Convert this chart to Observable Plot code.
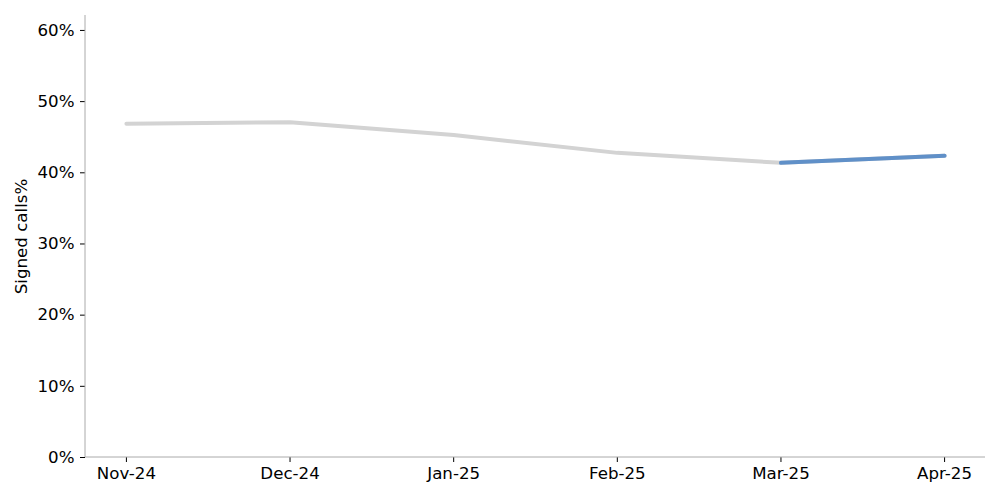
<!DOCTYPE html>
<html>
<head>
<meta charset="utf-8">
<script src="https://cdn.jsdelivr.net/npm/d3@7"></script>
<script src="https://cdn.jsdelivr.net/npm/@observablehq/plot@0.6"></script>
<style>
  html, body { margin: 0; padding: 0; background: #fff; }
  svg { font-family: "DejaVu Sans", sans-serif; }
</style>
</head>
<body>
<div id="chart"></div>
<script>
const months = ["Nov-24", "Dec-24", "Jan-25", "Feb-25", "Mar-25", "Apr-25"];
const signedPct = [0.469, 0.471, 0.453, 0.428, 0.414, 0.424];
const highlightMonths = ["Mar-25", "Apr-25"];
const yTicks = [0, 0.1, 0.2, 0.3, 0.4, 0.5, 0.6];

const data = months.map((m, i) => ({month: m, value: signedPct[i]}));
const highlight = data.filter(d => highlightMonths.includes(d.month));

const plot = Plot.plot({
  width: 1000,
  height: 500,
  marginLeft: 85,
  marginRight: 15,
  marginTop: 15,
  marginBottom: 43,
  style: {fontFamily: "DejaVu Sans, sans-serif", fontSize: "16.67px", color: "#000", background: "#fff"},
  x: {type: "point", domain: months, padding: 0.25, round: false},
  y: {domain: [0, 0.621]},
  marks: [
    Plot.axisX({tickSize: 5, tickPadding: 5, label: null, fontSize: 16.67}),
    Plot.axisY({ticks: yTicks, tickFormat: d3.format(".0%"), tickSize: 5, tickPadding: 6,
      label: "Signed calls%", labelAnchor: "center", labelArrow: "none", labelOffset: 70, fontSize: 16.67}),
    Plot.lineY(data, {x: "month", y: "value", stroke: "#d3d3d3", strokeWidth: 4}),
    Plot.lineY(highlight, {x: "month", y: "value", stroke: "#6090c8", strokeWidth: 4}),
  ]
});
// axis frame lines (left and bottom) in gray
const svg = d3.select(plot);
svg.append("line").attr("x1", 85).attr("x2", 85).attr("y1", 15).attr("y2", 457).attr("stroke", "#aaa").attr("stroke-width", 1);
svg.append("line").attr("x1", 85).attr("x2", 985).attr("y1", 457).attr("y2", 457).attr("stroke", "#aaa").attr("stroke-width", 1);
document.getElementById("chart").appendChild(plot);
</script>
</body>
</html>
